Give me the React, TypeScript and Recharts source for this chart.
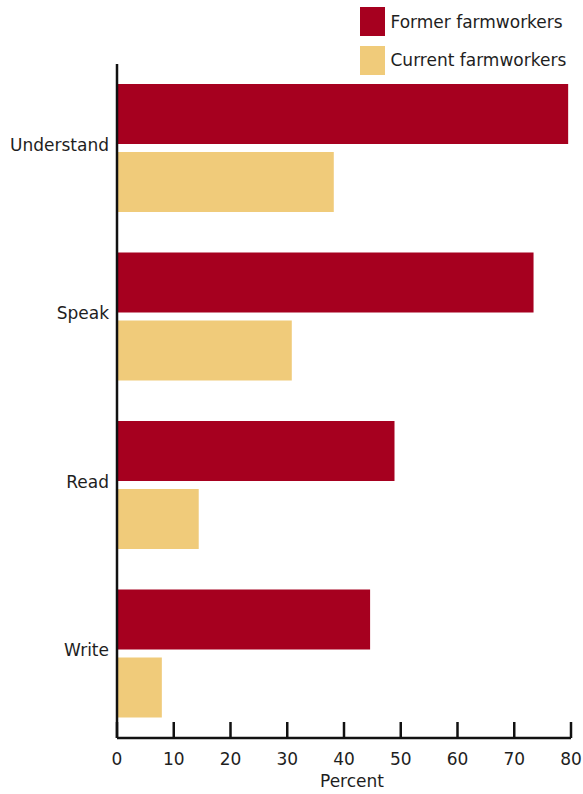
import React from 'react';
import { BarChart, Bar, XAxis, YAxis, Legend } from 'recharts';

const skills = ['Understand', 'Speak', 'Read', 'Write'];
const formerFarmworkers = [79.5, 73.4, 48.9, 44.6];
const currentFarmworkers = [38.2, 30.8, 14.4, 7.9];
const percentTicks = [0, 10, 20, 30, 40, 50, 60, 70, 80];
const seriesOrder = ['former', 'current'];

const data = skills.map((skill, i) => ({
  skill,
  former: formerFarmworkers[i],
  current: currentFarmworkers[i]
}));

const FONT = '"DejaVu Sans", sans-serif';
const TEXT = '#1e1e1e';

const PercentTick = ({ x, y, payload }: any) => (
  <g>
    <line x1={x} y1={y} x2={x} y2={y - 16} stroke="#111" strokeWidth={2.5} />
    <text x={x} y={y + 27} textAnchor="middle" fontSize={17} fill={TEXT} fontFamily={FONT}>
      {payload.value}
    </text>
  </g>
);

const LegendBox = ({ payload }: any) => {
  const items = [...(payload || [])].sort(
    (a: any, b: any) => seriesOrder.indexOf(a.dataKey) - seriesOrder.indexOf(b.dataKey)
  );
  return (
    <div style={{ fontFamily: FONT, fontSize: 17, color: TEXT }}>
      {items.map((entry: any, i: number) => (
        <div
          key={entry.value}
          style={{ display: 'flex', alignItems: 'center', height: 29, marginBottom: i === 0 ? 9.5 : 0 }}
        >
          <div style={{ width: 25, height: 29, background: entry.color }} />
          <span style={{ marginLeft: 5.5, whiteSpace: 'nowrap' }}>{entry.value}</span>
        </div>
      ))}
    </div>
  );
};

export default function App() {
  return (
    <div style={{ position: 'absolute', left: 0, top: 0, fontFamily: FONT }}>
      <BarChart
        width={583}
        height={794}
        data={data}
        layout="vertical"
        margin={{ top: 64, right: 12, left: 0, bottom: 0 }}
        barSize={60}
        barGap={8}
      >
        <XAxis
          type="number"
          domain={[0, 80]}
          ticks={percentTicks}
          interval={0}
          height={56}
          tickSize={0}
          tickMargin={0}
          tick={<PercentTick />}
          axisLine={{ stroke: '#111', strokeWidth: 2.5 }}
          label={{ value: 'Percent', position: 'insideBottom', offset: 7, dx: 8, fontSize: 17, fill: TEXT, fontFamily: FONT }}
        />
        <YAxis
          type="category"
          dataKey="skill"
          width={117}
          tickLine={false}
          axisLine={{ stroke: '#111', strokeWidth: 2.5 }}
          tick={{ fontSize: 17, fill: TEXT, fontFamily: FONT, dy: -3.5 }}
        />
        <Legend
          layout="horizontal"
          align="center"
          verticalAlign="middle"
          content={<LegendBox />}
          wrapperStyle={{ top: 7, left: 360, width: 'auto' }}
        />
        <Bar dataKey="former" name="Former farmworkers" fill="#A6001F" isAnimationActive={false} />
        <Bar dataKey="current" name="Current farmworkers" fill="#F0CB7A" isAnimationActive={false} />
      </BarChart>
    </div>
  );
}
